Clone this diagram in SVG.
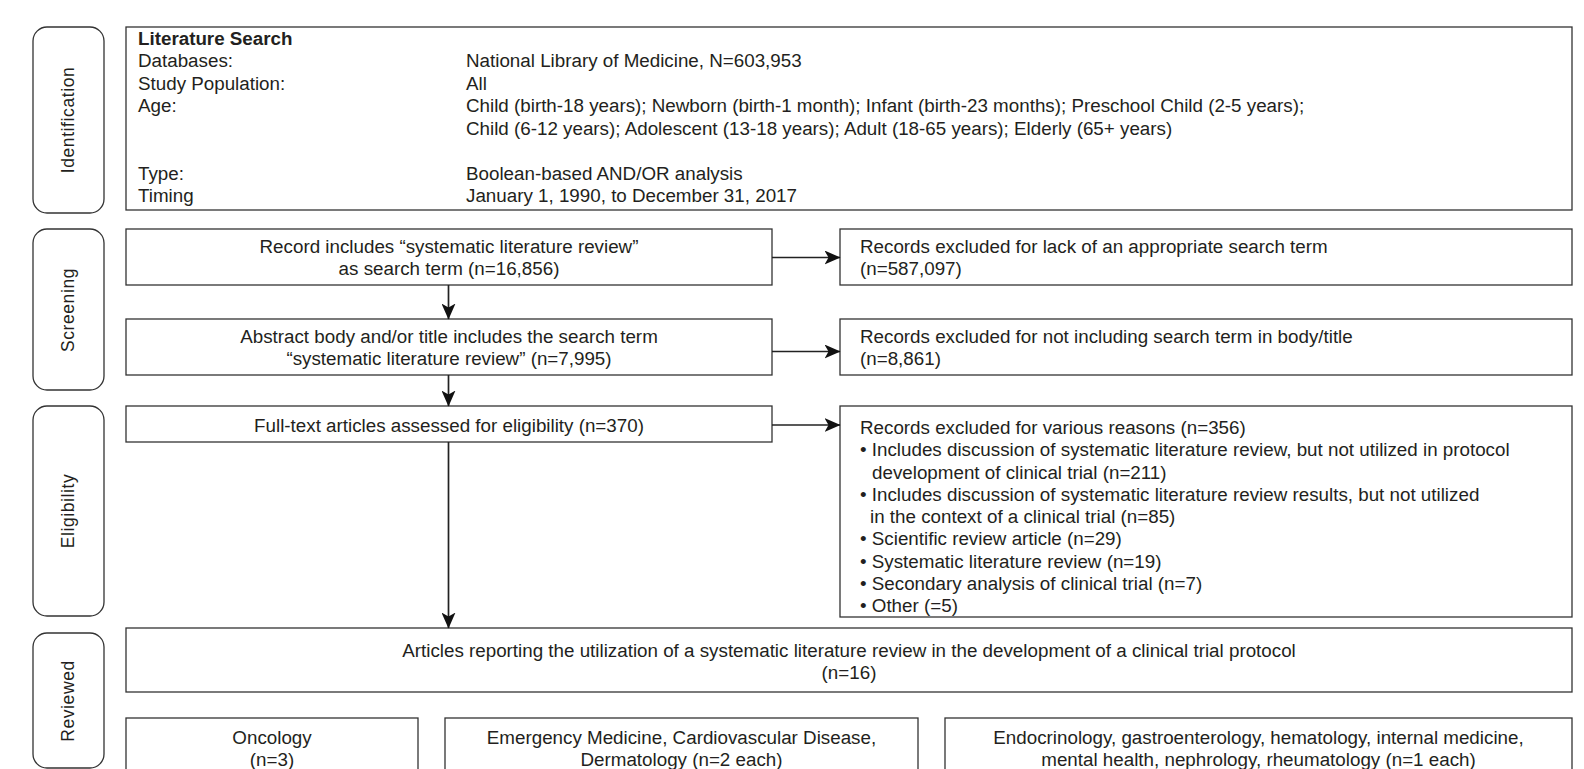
<svg xmlns="http://www.w3.org/2000/svg" width="1584" height="769" viewBox="0 0 1584 769">
<defs>
<style>
.box{fill:#fff;stroke:#333;stroke-width:1.3}
.side{fill:#fff;stroke:#333;stroke-width:1.3}
.t{font-family:"Liberation Sans",Arial,sans-serif;font-size:18.8px;fill:#231f20}
.c{text-anchor:middle}
.b{font-weight:bold}
.s{font-family:"Liberation Sans",Arial,sans-serif;font-size:17.5px;fill:#231f20;text-anchor:middle;letter-spacing:0.6px}
.ln{stroke:#222;stroke-width:1.7;fill:none}
</style>
<marker id="ah" viewBox="0 0 16 14" refX="15.5" refY="7" markerWidth="16" markerHeight="14" markerUnits="userSpaceOnUse" orient="auto">
<path d="M0,0 L16,7 L0,14 L4,7 Z" fill="#111"/>
</marker>
</defs>
<rect width="1584" height="769" fill="#fff"/>

<g id="side-identification"><rect class="side" x="33" y="27" width="71" height="186" rx="14"/><text class="s" transform="translate(74,120) rotate(-90)">Identification</text></g>
<g id="side-screening"><rect class="side" x="33" y="229" width="71" height="161" rx="14"/><text class="s" transform="translate(74,310) rotate(-90)">Screening</text></g>
<g id="side-eligibility"><rect class="side" x="33" y="406" width="71" height="210" rx="14"/><text class="s" transform="translate(74,511) rotate(-90)">Eligibility</text></g>
<g id="side-reviewed"><rect class="side" x="33" y="633" width="71" height="135" rx="14"/><text class="s" transform="translate(74,701) rotate(-90)">Reviewed</text></g>

<g id="literature-search">
<rect class="box" x="126" y="27" width="1446" height="183"/>
<text class="t b" x="138" y="45">Literature Search</text>
<text class="t" x="138" y="67">Databases:</text>
<text class="t" x="466" y="67">National Library of Medicine, N=603,953</text>
<text class="t" x="138" y="89.5">Study Population:</text>
<text class="t" x="466" y="89.5">All</text>
<text class="t" x="138" y="112">Age:</text>
<text class="t" x="466" y="112">Child (birth-18 years); Newborn (birth-1 month); Infant (birth-23 months); Preschool Child (2-5 years);</text>
<text class="t" x="466" y="134.5">Child (6-12 years); Adolescent (13-18 years); Adult (18-65 years); Elderly (65+ years)</text>
<text class="t" x="138" y="179.5">Type:</text>
<text class="t" x="466" y="179.5">Boolean-based AND/OR analysis</text>
<text class="t" x="138" y="202">Timing</text>
<text class="t" x="466" y="202">January 1, 1990, to December 31, 2017</text>
</g>

<g id="record-includes">
<rect class="box" x="126" y="229" width="646" height="56"/>
<text class="t c" x="449" y="252.5">Record includes “systematic literature review”</text>
<text class="t c" x="449" y="274.5">as search term (n=16,856)</text>
</g>
<g id="excluded-1">
<rect class="box" x="840" y="229" width="732" height="56"/>
<text class="t" x="860" y="252.5">Records excluded for lack of an appropriate search term</text>
<text class="t" x="860" y="274.5">(n=587,097)</text>
</g>

<g id="abstract-body">
<rect class="box" x="126" y="319" width="646" height="56"/>
<text class="t c" x="449" y="343">Abstract body and/or title includes the search term</text>
<text class="t c" x="449" y="365">“systematic literature review” (n=7,995)</text>
</g>
<g id="excluded-2">
<rect class="box" x="840" y="319" width="732" height="56"/>
<text class="t" x="860" y="343">Records excluded for not including search term in body/title</text>
<text class="t" x="860" y="365">(n=8,861)</text>
</g>

<g id="full-text">
<rect class="box" x="126" y="406" width="646" height="36"/>
<text class="t c" x="449" y="432">Full-text articles assessed for eligibility (n=370)</text>
</g>
<g id="excluded-3">
<rect class="box" x="840" y="406" width="732" height="211"/>
<text class="t" x="860" y="434">Records excluded for various reasons (n=356)</text>
<text class="t" x="860" y="456.25">• Includes discussion of systematic literature review, but not utilized in protocol</text>
<text class="t" x="872" y="478.5">development of clinical trial (n=211)</text>
<text class="t" x="860" y="500.75">• Includes discussion of systematic literature review results, but not utilized</text>
<text class="t" x="870" y="523">in the context of a clinical trial (n=85)</text>
<text class="t" x="860" y="545.25">• Scientific review article (n=29)</text>
<text class="t" x="860" y="567.5">• Systematic literature review (n=19)</text>
<text class="t" x="860" y="589.75">• Secondary analysis of clinical trial (n=7)</text>
<text class="t" x="860" y="612">• Other (=5)</text>
</g>

<g id="articles-reporting">
<rect class="box" x="126" y="628" width="1446" height="64"/>
<text class="t c" x="849" y="656.5">Articles reporting the utilization of a systematic literature review in the development of a clinical trial protocol</text>
<text class="t c" x="849" y="678.5">(n=16)</text>
</g>

<g id="oncology">
<rect class="box" x="126" y="718" width="292" height="70"/>
<text class="t c" x="272" y="743.5">Oncology</text>
<text class="t c" x="272" y="765.5">(n=3)</text>
</g>
<g id="emergency">
<rect class="box" x="445" y="718" width="473" height="70"/>
<text class="t c" x="681.5" y="743.5">Emergency Medicine, Cardiovascular Disease,</text>
<text class="t c" x="681.5" y="765.5">Dermatology (n=2 each)</text>
</g>
<g id="endocrinology">
<rect class="box" x="945" y="718" width="627" height="70"/>
<text class="t c" x="1258.5" y="743.5">Endocrinology, gastroenterology, hematology, internal medicine,</text>
<text class="t c" x="1258.5" y="765.5">mental health, nephrology, rheumatology (n=1 each)</text>
</g>

<g id="connectors">
<line class="ln" x1="772" y1="257.5" x2="840" y2="257.5" marker-end="url(#ah)"/>
<line class="ln" x1="772" y1="351.5" x2="840" y2="351.5" marker-end="url(#ah)"/>
<line class="ln" x1="772" y1="425" x2="840" y2="425" marker-end="url(#ah)"/>
<line class="ln" x1="448.5" y1="285" x2="448.5" y2="319" marker-end="url(#ah)"/>
<line class="ln" x1="448.5" y1="375" x2="448.5" y2="406" marker-end="url(#ah)"/>
<line class="ln" x1="448.5" y1="442" x2="448.5" y2="628" marker-end="url(#ah)"/>
</g>
</svg>
